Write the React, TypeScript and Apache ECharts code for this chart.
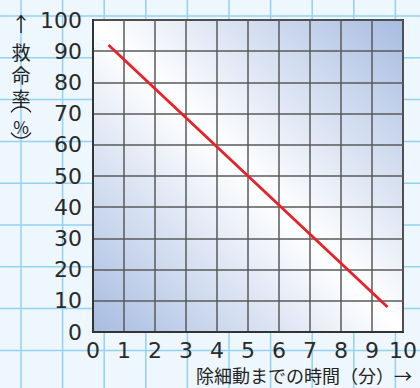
import React, { useEffect, useRef } from "react";
import * as echarts from "echarts";

const xTicks = [0, 1, 2, 3, 4, 5, 6, 7, 8, 9, 10];
const yTicks = [0, 10, 20, 30, 40, 50, 60, 70, 80, 90, 100];
const lineX = [0.5, 9.5];
const lineY = [92, 8];
const xTitle = "除細動までの時間（分）";
const yTitleChars = ["救", "命", "率"];

export default function App() {
  const ref = useRef<HTMLDivElement>(null);
  useEffect(() => {
    document.body.style.margin = "0";
    const chart = echarts.init(ref.current!, null, { renderer: "svg" });
    const paper: any[] = [];
    for (let i = 0; i < 10; i++) {
      const x = 21 + 41.6 * i;
      paper.push({ type: "line", z: -10, silent: true, shape: { x1: x, y1: 0, x2: x, y2: 388 }, style: { stroke: "#93d2f1", lineWidth: 1.5 } });
    }
    for (let i = 0; i < 9; i++) {
      const y = 16 + 41.8 * i;
      paper.push({ type: "line", z: -10, silent: true, shape: { x1: 0, y1: y, x2: 420, y2: y }, style: { stroke: "#93d2f1", lineWidth: 1.5 } });
    }
    const cjk = "'Noto Sans CJK JP', sans-serif";
    const t = (text: string, x: number, y: number, size: number, align = "center") => ({
      type: "text", x, y,
      style: { text, font: `${size}px ${cjk}`, lineHeight: size, fill: "#222", align, verticalAlign: "middle" },
    });
    const a = 0.59;
    const texts: any[] = [
      t("↑", 21, 23, 20),
      ...yTitleChars.map((c, i) => t(c, 21, 51 + i * 23, 19)),
      { type: "arc", shape: { cx: 21, cy: 119, r: 12, startAngle: Math.PI + a, endAngle: 2 * Math.PI - a }, style: { stroke: "#222", lineWidth: 1.3, fill: null } },
      t("%", 21, 126, 17),
      { type: "arc", shape: { cx: 21, cy: 126, r: 12, startAngle: a, endAngle: Math.PI - a }, style: { stroke: "#222", lineWidth: 1.3, fill: null } },
      t(xTitle, 394, 375, 18, "right"),
      t("→", 403, 375, 18),
    ];
    const numFont = "'DejaVu Sans', sans-serif";
    chart.setOption({
      animation: false,
      backgroundColor: "#eef7fd",
      graphic: { elements: [...paper, ...texts] },
      grid: {
        left: 93, top: 20, width: 313, height: 312,
        show: true,
        borderColor: "#333",
        borderWidth: 2,
        backgroundColor: new echarts.graphic.LinearGradient(1, 0, 0, 1, [
          { offset: 0, color: "#a7bce1" },
          { offset: 0.5, color: "#ffffff" },
          { offset: 1, color: "#a7bce1" },
        ]),
      },
      xAxis: {
        type: "value", min: 0, max: 10, interval: 1,
        axisLine: { show: true, lineStyle: { color: "#333", width: 2 } },
        axisTick: { show: false },
        splitLine: { show: true, lineStyle: { color: "#5a5a5a", width: 1.5 } },
        axisLabel: {
          margin: 7, fontSize: 22, color: "#2a2a2a", fontFamily: numFont,
          formatter: (v: number) => (xTicks.includes(v) ? String(v) : ""),
        },
      },
      yAxis: {
        type: "value", min: 0, max: 100, interval: 10,
        axisLine: { show: true, lineStyle: { color: "#333", width: 2 } },
        axisTick: { show: false },
        splitLine: { show: true, lineStyle: { color: "#5a5a5a", width: 1.5 } },
        axisLabel: {
          margin: 11, fontSize: 22, color: "#2a2a2a", fontFamily: numFont,
          formatter: (v: number) => (yTicks.includes(v) ? String(v) : ""),
        },
      },
      series: [
        {
          type: "line",
          data: lineX.map((x, i) => [x, lineY[i]]),
          symbol: "none",
          lineStyle: { color: "#e8202a", width: 2.8 },
        },
      ],
    });
    return () => chart.dispose();
  }, []);
  return <div ref={ref} style={{ width: 420, height: 388, position: "absolute", left: 0, top: 0 }} />;
}
